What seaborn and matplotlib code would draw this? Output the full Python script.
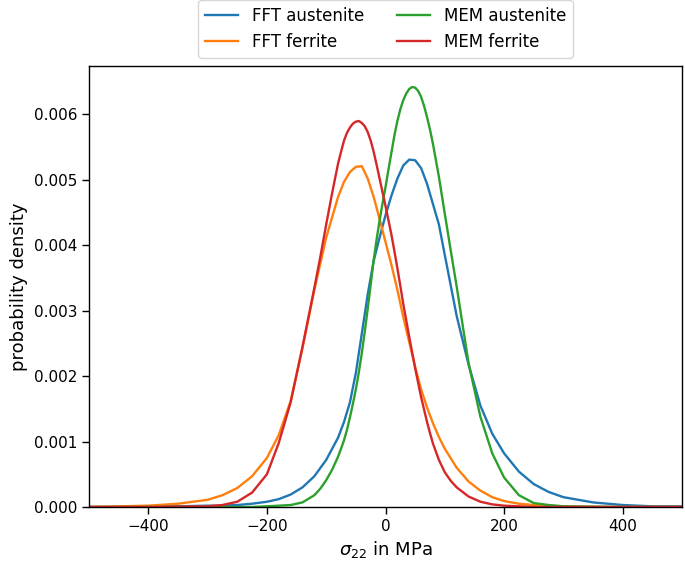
import numpy as np
import pandas as pd
import matplotlib
matplotlib.use("Agg")
import matplotlib.pyplot as plt
import seaborn as sns

sns.set_context("notebook", rc={"axes.linewidth": 1.0,
                                "xtick.major.size": 5, "ytick.major.size": 5,
                                "xtick.major.width": 1.0, "ytick.major.width": 1.0,
                                "axes.labelsize": 13, "legend.fontsize": 12,
                                "lines.linewidth": 1.7})

# FFT curves: coarse stress grid in MPa
fft_stress = [-500, -450, -400, -350, -300, -275, -250, -225, -200, -180, -160, -140,
              -120, -100, -80, -70, -60, -50, -40, -30, -20, -10, 0, 10, 20, 30, 40,
              50, 60, 70, 80, 90, 100, 120, 140, 160, 180, 200, 225, 250, 275, 300,
              350, 400, 450, 500]

fft_austenite = [0.0, 0.0, 0.00001, 0.00001, 0.00002, 0.00002, 0.00003, 0.00005,
                 0.00008, 0.00012, 0.00019, 0.00030, 0.00047, 0.00072, 0.00106,
                 0.00130, 0.00160, 0.00205, 0.00265, 0.00325, 0.00376, 0.00412,
                 0.00446, 0.00476, 0.00502, 0.00522, 0.00531, 0.00530, 0.00518,
                 0.00494, 0.00463, 0.00432, 0.00385, 0.00292, 0.00218, 0.00155,
                 0.00112, 0.00082, 0.00054, 0.00035, 0.00023, 0.00015, 0.00007,
                 0.00003, 0.00001, 0.00001]

fft_ferrite = [0.0, 0.00001, 0.00002, 0.00005, 0.00011, 0.00018, 0.00029, 0.00047,
               0.00075, 0.00110, 0.00162, 0.00243, 0.00332, 0.00412, 0.00474,
               0.00497, 0.00512, 0.00520, 0.00521, 0.00502, 0.00474, 0.00440,
               0.00405, 0.00370, 0.00332, 0.00290, 0.00252, 0.00214, 0.00180,
               0.00152, 0.00128, 0.00107, 0.00089, 0.00060, 0.00039, 0.00025,
               0.00015, 0.00009, 0.00005, 0.00003, 0.00002, 0.00001, 0.0, 0.0,
               0.0, 0.0]

# MEM curves: finer stress grid in MPa
mem_stress = [-500, -400, -300, -275, -250, -225, -200, -180, -160, -140, -120, -110,
              -100, -90, -80, -75, -70, -65, -60, -55, -50, -45, -40, -35, -30, -25,
              -20, -15, -10, -5, 0, 5, 10, 15, 20, 25, 30, 35, 40, 45, 50, 55, 60,
              65, 70, 75, 80, 90, 100, 110, 120, 140, 160, 180, 200, 225, 250, 275,
              300, 400, 500]

mem_austenite = [0.0, 0.0, 0.0, 0.0, 0.0, 0.0, 0.00001, 0.00002, 0.00003, 0.00007,
                 0.00018, 0.00028, 0.00041, 0.00057, 0.00077, 0.00089, 0.00102,
                 0.00118, 0.00137, 0.00158, 0.00180, 0.00206, 0.00235, 0.00268,
                 0.00303, 0.00340, 0.00377, 0.00409, 0.00438, 0.00464, 0.00489,
                 0.00516, 0.00542, 0.00568, 0.00590, 0.00608, 0.00622, 0.00632,
                 0.00639, 0.00642, 0.00641, 0.00636, 0.00627, 0.00613, 0.00596,
                 0.00577, 0.00555, 0.00505, 0.00448, 0.00392, 0.00337, 0.00220,
                 0.00138, 0.00082, 0.00045, 0.00018, 0.00006, 0.00003, 0.00001,
                 0.0, 0.0]

mem_ferrite = [0.0, 0.0, 0.00001, 0.00003, 0.00008, 0.00022, 0.00050, 0.00098,
               0.00160, 0.00245, 0.00335, 0.00382, 0.00432, 0.00480, 0.00525,
               0.00543, 0.00560, 0.00572, 0.00580, 0.00586, 0.00589, 0.00590,
               0.00587, 0.00582, 0.00573, 0.00560, 0.00543, 0.00523, 0.00502,
               0.00481, 0.00460, 0.00438, 0.00416, 0.00391, 0.00365, 0.00338,
               0.00310, 0.00285, 0.00260, 0.00236, 0.00212, 0.00190, 0.00168,
               0.00149, 0.00130, 0.00113, 0.00097, 0.00072, 0.00053, 0.00040,
               0.00030, 0.00016, 0.00008, 0.00004, 0.00002, 0.00001, 0.0, 0.0,
               0.0, 0.0, 0.0]

labels = ["FFT austenite", "FFT ferrite", "MEM austenite", "MEM ferrite"]
grids = [fft_stress, fft_stress, mem_stress, mem_stress]
series = [fft_austenite, fft_ferrite, mem_austenite, mem_ferrite]

df = pd.concat(
    [pd.DataFrame({"stress": x, "density": s, "curve": lab})
     for lab, x, s in zip(labels, grids, series)],
    ignore_index=True,
)

fig, ax = plt.subplots(figsize=(6.85, 5.62), dpi=100)
fig.subplots_adjust(left=0.130, right=0.9956, bottom=0.0979, top=0.8826)

sns.lineplot(data=df, x="stress", y="density", hue="curve", hue_order=labels,
             palette=sns.color_palette("tab10", 4), estimator=None, ax=ax)

ax.set_xlim(-500, 500)
ax.set_ylim(bottom=0)
ax.set_xlabel(r"$\sigma_{22}$ in MPa")
ax.set_ylabel("probability density")

sns.move_legend(ax, "lower center", bbox_to_anchor=(0.5, 1.0), ncol=2,
                title=None, frameon=True)

fig.savefig("out.png", dpi=100)
